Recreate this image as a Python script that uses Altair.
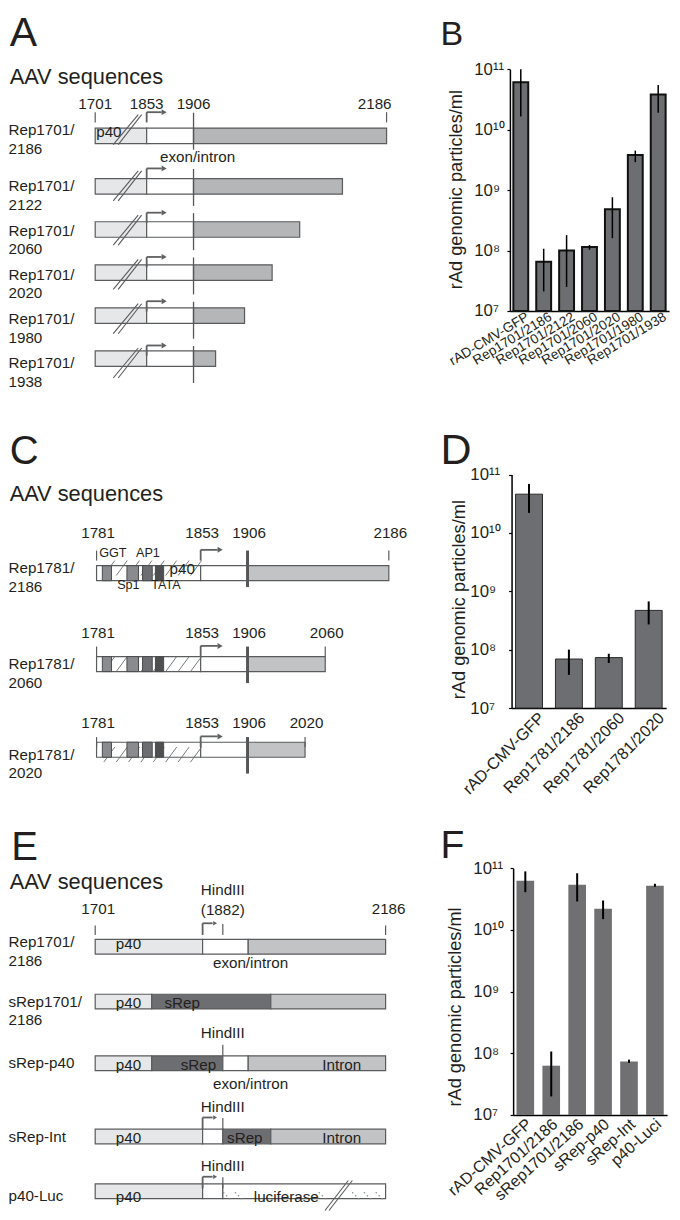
import altair as alt
import pandas as pd

# ------------------------------------------------------------------ data
A_NAMES = ["Rep1701/2186", "Rep1701/2122", "Rep1701/2060", "Rep1701/2020", "Rep1701/1980", "Rep1701/1938"]
A_ENDS = [2186, 2122, 2060, 2020, 1980, 1938]
A_MARKS = [1701, 1853, 1906]
A_BREAK = 1795

C_NAMES = ["Rep1781/2186", "Rep1781/2060", "Rep1781/2020"]
C_ENDS = [2186, 2060, 2020]
C_MARKS = [1781, 1853, 1906]
C_ELEMENTS = ["GGT", "Sp1", "AP1", "TATA"]
C_EL_START = [1785.0, 1802.0, 1812.8, 1821.7]
C_EL_END = [1791.3, 1810.0, 1819.5, 1827.4]
C_LABEL_POS = [1782.8, 1803.0, 1816.5, 1829.0]
C_HATCH = [1789.8, 1798.4, 1806.9, 1815.5, 1824.0, 1832.6, 1841.2, 1849.8]
C_P40_POS = 1840.2

E_NAMES = ["Rep1701/2186", "sRep1701/2186", "sRep-p40", "sRep-Int", "p40-Luc"]
E_SEG_ROW = [0, 0, 0, 1, 1, 1, 2, 2, 2, 2, 3, 3, 3, 3, 4, 4, 4]
E_SEG_START = [1701, 1853, 1906, 1701, 1781, 1952, 1701, 1781, 1882, 1906, 1701, 1853, 1882, 1952, 1701, 1853, 1882]
E_SEG_END = [1853, 1906, 2186, 1781, 1952, 2186, 1781, 1882, 1906, 2186, 1853, 1882, 1952, 2186, 1853, 1882, 2186]
E_SEG_KIND = ["p40", "exon", "rep", "p40", "srep", "rep", "p40", "srep", "exon", "rep",
              "p40", "exon", "srep", "rep", "p40", "exon", "luc"]
E_TEXT_ROW = [0, 1, 2, 3, 4, 1, 2, 3, 2, 3, 4]
E_TEXT = ["p40"] * 5 + ["sRep"] * 3 + ["Intron"] * 2 + ["luciferase"]
E_TEXT_POS = [1748] * 5 + [1824, 1847, 1902.8] + [2096.5, 2096.5] + [1983.6]
E_START, E_END, E_TSS, E_EXON_END = 1701, 2186, 1853, 1906
HINDIII = 1882
E_HINDIII_ROWS = [0, 2, 3, 4]
E_PROMOTER_ROWS = [0, 3, 4]
E_EXON_ROWS = [0, 2]
E_LUC_DOTS = [1885.7, 1896.8, 2057, 2125, 2149, 2173]
E_BREAK = 2089

Y_TICKS = [1e7, 1e8, 1e9, 1e10, 1e11]
Y_TICK_LABELS = ["10\u2077", "10\u2078", "10\u2079", "10\u00b9\u2070", "10\u00b9\u00b9"]
Y_TITLE = "rAd genomic particles/ml"

B_CATS = ["rAD-CMV-GFP", "Rep1701/2186", "Rep1701/2122", "Rep1701/2060", "Rep1701/2020", "Rep1701/1980", "Rep1701/1938"]
B_VALS = [6.1e10, 6.5e7, 1.0e8, 1.14e8, 4.8e8, 3.8e9, 3.8e10]
B_LO = [1.65e10, 2.1e7, 2.5e7, 1.03e8, 1.6e8, 2.9e9, 1.9e10]
B_HI = [1.0e11, 1.07e8, 1.8e8, 1.23e8, 7.6e8, 4.5e9, 5.5e10]

D_CATS = ["rAD-CMV-GFP", "Rep1781/2186", "Rep1781/2060", "Rep1781/2020"]
D_VALS = [4.6e10, 6.9e7, 7.3e7, 4.7e8]
D_LO = [2.2e10, 3.7e7, 5.9e7, 2.7e8]
D_HI = [6.9e10, 1.0e8, 8.5e7, 6.7e8]

F_CATS = ["rAD-CMV-GFP", "Rep1701/2186", "sRep1701/2186", "sRep-p40", "sRep-Int", "p40-Luci"]
F_VALS = [6.3e10, 6.3e7, 5.4e10, 2.2e10, 7.4e7, 5.2e10]
F_LO = [4.1e10, 2.0e7, 2.9e10, 1.5e10, 7.0e7, 5.0e10]
F_HI = [8.9e10, 1.07e8, 8.3e10, 3.0e10, 7.9e7, 5.6e10]

PANEL_LETTERS = ["A", "B", "C", "D", "E", "F"]
SECTION_TITLE = "AAV sequences"

# ------------------------------------------------------------------ layout / style
W, H = 664, 1204
SX, SY = W / 680.0, H / 1220.0


def X(v):
    return round(v * SX, 2)


def Y(v):
    return round(v * SY, 2)


FONT = "Liberation Sans"
INK = "#231f20"
EDGE = "#5a5b5d"
LIGHT = "#e6e7e8"
WHITE = "#ffffff"
GRAY_A = "#b5b6b8"
GRAY = "#c2c3c5"
SREP = "#6d6e71"
ARROW = "#5f6062"
BAR = "#6d6e71"
FS = 15.2
E_FILL = {"p40": LIGHT, "exon": WHITE, "rep": GRAY, "srep": SREP, "luc": WHITE}
C_FILL = {"GGT": "#8a8b8e", "Sp1": "#8a8b8e", "AP1": "#6d6e71", "TATA": "#4e4f51"}


def qx(field, sc):
    return alt.X(field, type="quantitative", scale=sc, axis=None)


def qy(field, sc):
    return alt.Y(field, type="quantitative", scale=sc, axis=None)


def segments(df, xs, ys, size, stroke=EDGE, sw=1.2):
    return alt.Chart(df).mark_bar(orient="horizontal", size=size, stroke=stroke, strokeWidth=sw).encode(
        x=qx("start", xs), x2="end:Q", y=qy("row", ys), fill=alt.Fill("fill:N", scale=None))


def vrule(df, xs, ys, top, bottom, color=EDGE, width=1.2):
    return alt.Chart(df).mark_rule(color=color, strokeWidth=width, yOffset=top, y2Offset=bottom).encode(
        x=qx("x", xs), y=qy("row", ys), y2="row:Q")


def promoter(df, xs, ys, base, top, length, head):
    v = vrule(df, xs, ys, top, base, ARROW, 1.8)
    h = alt.Chart(df).mark_rule(color=ARROW, strokeWidth=1.8, yOffset=top, x2Offset=length).encode(
        x=qx("x", xs), x2="x:Q", y=qy("row", ys))
    p = alt.Chart(df).mark_point(shape="triangle-right", filled=True, opacity=1, color=ARROW, size=head,
                                 xOffset=length + 2.5, yOffset=top).encode(x=qx("x", xs), y=qy("row", ys))
    return [v, h, p]


def slash(df, xs, ys, x0, x1, y0, y1, color=EDGE, width=1.1):
    return alt.Chart(df).mark_rule(color=color, strokeWidth=width, xOffset=x0, x2Offset=x1,
                                   yOffset=y0, y2Offset=y1).encode(
        x=qx("x", xs), x2="x:Q", y=qy("row", ys), y2="row:Q")


def label(df, xs, ys, **kw):
    base = dict(font=FONT, fontSize=FS, color=INK, baseline="middle", align="center")
    base.update(kw)
    return alt.Chart(df).mark_text(**base).encode(x=qx("x", xs), y=qy("row", ys), text="t:N")


def row_labels(names, ys):
    df = pd.DataFrame({"row": range(len(names)), "t": [n.replace("/", "/\n") for n in names]})
    return alt.Chart(df).mark_text(font=FONT, fontSize=FS, color=INK, align="left", baseline="middle",
                                   lineBreak="\n", lineHeight=18.5).encode(
        x=alt.value(X(0.5)), y=qy("row", ys), text="t:N")


def rows_df(rows, x):
    return pd.DataFrame({"row": list(rows), "x": x})


def txt_df(rows, xs, texts):
    return pd.DataFrame({"row": rows, "x": xs, "t": texts})


# ------------------------------------------------------------------ panel A schematic
xsA = alt.Scale(domain=[1701, 1853, 1906, 2186], range=[X(89.3), X(142), X(190), X(387.7)], zero=False, nice=False)
ysA = alt.Scale(domain=[0, 1, 5], range=[Y(123.8), Y(180.8), Y(360.2)], zero=False, nice=False)
nA = len(A_ENDS)
segA = pd.DataFrame([(i, s, e, f) for i, end in enumerate(A_ENDS)
                     for s, e, f in [(A_MARKS[0], A_MARKS[1], LIGHT), (A_MARKS[1], A_MARKS[2], WHITE),
                                     (A_MARKS[2], end, GRAY_A)]],
                    columns=["row", "start", "end", "fill"])
A_layers = [
    segments(segA, xsA, ysA, 15.5),
    slash(rows_df(range(nA), A_BREAK), xsA, ysA, -13.8, 11.2, 14.5, -15.5),
    slash(rows_df(range(nA), A_BREAK), xsA, ysA, -8.8, 14.6, 14.5, -15.5),
    vrule(rows_df(range(nA), A_MARKS[2]), xsA, ysA, -17.5, 19.5, "#555658", 1.3),
    vrule(rows_df([0, 0], [A_MARKS[0], A_ENDS[0]]), xsA, ysA, -18, -7.75),
    *promoter(rows_df(range(nA), A_MARKS[1]), xsA, ysA, -7.75, -18, 15, 34),
    label(txt_df([0, 0, 0], A_MARKS, [str(v) for v in A_MARKS]), xsA, ysA, dy=-26),
    label(txt_df([0], [A_ENDS[0]], [str(A_ENDS[0])]), xsA, ysA, dy=-26, align="right", dx=5),
    label(txt_df([0], [A_MARKS[0]], ["p40"]), xsA, ysA, align="left", dx=1, dy=1.5),
    label(txt_df([0], [A_MARKS[2]], ["exon/intron"]), xsA, ysA, dx=4, dy=27),
    row_labels(A_NAMES, ysA),
]

# ------------------------------------------------------------------ panel C schematic
xsC = alt.Scale(domain=[1781, 1853, 1906, 2186], range=[X(90.7), X(197.3), X(245.3), X(390)], zero=False, nice=False)
ysC = alt.Scale(domain=[0, 1, 2], range=[Y(567.5), Y(664.8), Y(756.5)], zero=False, nice=False)
nC = len(C_ENDS)
segC = pd.DataFrame([(i, s, e, f) for i, end in enumerate(C_ENDS)
                     for s, e, f in [(C_MARKS[0], C_MARKS[1], WHITE), (C_MARKS[1], C_MARKS[2], WHITE),
                                     (C_MARKS[2], end, GRAY)]],
                    columns=["row", "start", "end", "fill"])
hatchC = pd.DataFrame([(i, h) for i in range(nC) for h in C_HATCH], columns=["row", "x"])
boxC = pd.DataFrame([(i, s, e, C_FILL[n]) for i in range(nC) for n, s, e in zip(C_ELEMENTS, C_EL_START, C_EL_END)],
                    columns=["row", "start", "end", "fill"])
numsC = pd.DataFrame([(i, v, str(v)) for i, end in enumerate(C_ENDS) for v in C_MARKS + [end]],
                     columns=["row", "x", "t"])
tickC = pd.DataFrame([(i, v) for i, end in enumerate(C_ENDS) for v in (C_MARKS[0], end)], columns=["row", "x"])
C_layers = [
    segments(segC, xsC, ysC, 15),
    slash(hatchC, xsC, ysC, -5.5, 5.5, 7.5, -7.5, "#6a6b6d", 0.9),
    segments(boxC, xsC, ysC, 15, "#4a4b4d", 1.0),
    vrule(tickC, xsC, ysC, -17.5, -7.5),
    vrule(rows_df(range(nC), C_MARKS[2]), xsC, ysC, -17.5, 19, "#555658", 3),
    *promoter(rows_df(range(nC), C_MARKS[1]), xsC, ysC, -7.5, -18.2, 17, 36),
    label(numsC[numsC.row == 0], xsC, ysC, dy=-35.5, dx=1.5),
    label(numsC[numsC.row > 0], xsC, ysC, dy=-31.5, dx=1.5),
    label(txt_df([0], [C_LABEL_POS[0]], [C_ELEMENTS[0]]), xsC, ysC, fontSize=12.6, dy=-15.5, align="left"),
    label(txt_df([0], [C_LABEL_POS[2]], [C_ELEMENTS[2]]), xsC, ysC, fontSize=12.6, dy=-15.5),
    label(txt_df([0, 0], [C_LABEL_POS[1], C_LABEL_POS[3]], [C_ELEMENTS[1], C_ELEMENTS[3]]), xsC, ysC,
          fontSize=12.6, dy=16.8),
    label(txt_df([0], [C_P40_POS], ["p40"]), xsC, ysC, dy=0.5),
    row_labels(C_NAMES, ysC),
]

# ------------------------------------------------------------------ panel E schematic
xsE = alt.Scale(domain=[1701, 1853, 1882, 1906, 2186], range=[X(89.3), X(199.3), X(220), X(246), X(386.7)],
                zero=False, nice=False)
ysE = alt.Scale(domain=[0, 1, 2, 3, 4], range=[Y(946.7), Y(1006.8), Y(1069.2), Y(1143.5), Y(1203.5)],
                zero=False, nice=False)
segE = pd.DataFrame({"row": E_SEG_ROW, "start": E_SEG_START, "end": E_SEG_END,
                     "fill": [E_FILL[k] for k in E_SEG_KIND]})
lucRow = [E_SEG_ROW[i] for i, k in enumerate(E_SEG_KIND) if k == "luc"][0]
dotsE = rows_df([lucRow] * len(E_LUC_DOTS), E_LUC_DOTS)


def dots(dx, dy):
    return alt.Chart(dotsE).mark_point(shape="circle", filled=True, opacity=1, color="#8a8b8d", size=2.5,
                                       xOffset=dx, yOffset=dy).encode(x=qx("x", xsE), y=qy("row", ysE))


E_layers = [
    segments(segE, xsE, ysE, 14.7),
    dots(-3, -3), dots(0, 0), dots(3, 3),
    slash(rows_df([lucRow], E_BREAK), xsE, ysE, -13, 10.3, 14.8, -15.2),
    slash(rows_df([lucRow], E_BREAK), xsE, ysE, -9, 14.3, 14.8, -15.2),
    vrule(rows_df([0, 0], [E_START, E_END]), xsE, ysE, -16.7, -7.35),
    vrule(rows_df(E_HINDIII_ROWS, HINDIII), xsE, ysE, -18.4, -7.35),
    *promoter(rows_df(E_PROMOTER_ROWS, E_TSS), xsE, ysE, -7.35, -19, 10, 20),
    label(txt_df([0, 0], [E_START, E_END], [str(E_START), str(E_END)]), xsE, ysE, dy=-33.4, dx=3),
    label(txt_df([0], [HINDIII], ["HindIII"]), xsE, ysE, dy=-52.4),
    label(txt_df([0], [HINDIII], ["(" + str(HINDIII) + ")"]), xsE, ysE, dy=-32.4),
    label(txt_df(E_HINDIII_ROWS[1:], HINDIII, "HindIII"), xsE, ysE, dy=-30),
    label(txt_df(E_EXON_ROWS, E_EXON_END, "exon/intron"), xsE, ysE, dx=2.3, dy=20.5),
    label(txt_df(E_TEXT_ROW, E_TEXT_POS, E_TEXT), xsE, ysE, dy=1.5),
    row_labels(E_NAMES, ysE),
]

# ------------------------------------------------------------------ bar charts
LABEL_EXPR = "[" + ",".join("'" + s + "'" for s in Y_TICK_LABELS) + "][round(log(datum.value)/LN10)-7]"


def bar_panel(cats, vals, lo, hi, xr, yr, pad, style, err_w, xlab, ylab_start, title_c):
    df = pd.DataFrame({"cat": cats, "val": vals, "lo": lo, "hi": hi})

    def xs():
        return alt.Scale(domain=cats, range=[X(xr[0]), X(xr[1])], paddingInner=pad[0], paddingOuter=pad[1])

    def ys():
        return alt.Scale(type="log", domain=[Y_TICKS[0], Y_TICKS[-1]], range=[Y(yr[0]), Y(yr[1])], nice=False)

    xaxis = alt.Axis(orient="bottom", offset=Y(yr[0]) - H, title=None, ticks=False, domainColor="black",
                     domainWidth=1.5, labelFont=FONT, labelFontSize=xlab[0], labelColor=INK, labelAngle=xlab[1],
                     labelAlign="right", labelBaseline="middle", labelOffset=xlab[2], labelPadding=xlab[3],
                     labelOverlap=False, labelLimit=300, grid=False)
    yaxis = alt.Axis(orient="left", offset=-X(xr[0]), values=Y_TICKS, labelExpr=LABEL_EXPR, labelAlign="left",
                     labelBaseline="middle", labelPadding=X(xr[0]) - X(ylab_start) - 3, tickSize=3,
                     tickColor="black", tickWidth=1.2, domainColor="black", domainWidth=1.5, grid=False,
                     labelFont=FONT, labelFontSize=16.8, labelColor=INK, labelOverlap=False,
                     title=Y_TITLE, titleFont=FONT, titleFontSize=18.2, titleFontWeight="normal", titleColor=INK,
                     titleAngle=270, titleAlign="center", titleBaseline="middle",
                     titleX=X(title_c[0]) - X(xr[0]), titleY=Y(title_c[1]))
    bars = alt.Chart(df).mark_bar(**style).encode(
        x=alt.X("cat:N", scale=xs(), axis=xaxis),
        y=alt.Y("val:Q", scale=ys(), axis=yaxis),
        y2=alt.datum(Y_TICKS[0]))
    err = alt.Chart(df).mark_rule(color="black", strokeWidth=err_w).encode(
        x=alt.X("cat:N", scale=xs(), axis=None),
        y=alt.Y("lo:Q", scale=ys(), axis=None), y2="hi:Q")
    return [bars, err]


B_layers = bar_panel(B_CATS, B_VALS, B_LO, B_HI, (514, 677), (307, 62), (0.35, 0.15),
                     dict(fill=BAR, stroke="#111111", strokeWidth=2), 1.5,
                     (13.6, 329, 7, 4.5), 477, (459.2, 183.5))
D_layers = bar_panel(D_CATS, D_VALS, D_LO, D_HI, (515.7, 674), (709.3, 472.7), (0.325, 0.1),
                     dict(fill=BAR, stroke="#2a2a2a", strokeWidth=1), 2,
                     (16.3, 315, 13, 7), 473, (462.5, 599))
F_layers = bar_panel(F_CATS, F_VALS, F_LO, F_HI, (517.3, 675), (1121.7, 871.7), (0.32, 0.13),
                     dict(fill="#707073", strokeWidth=0), 2,
                     (16, 318, 4, 6.5), 476, (458.3, 1011.7))

# ------------------------------------------------------------------ panel letters and section titles


def annot(text, x, y, size):
    return alt.Chart(pd.DataFrame({"t": [text]})).mark_text(
        font=FONT, fontSize=size, color=INK, align="left", baseline="alphabetic").encode(
        x=alt.value(X(x)), y=alt.value(Y(y)), text="t:N")


LETTER_POS = [(1.7, 38.3, 41), (443, 37.3, 34), (1.7, 462, 40), (443, 461.7, 43), (3.3, 863.3, 40), (443, 861.7, 39)]
TITLE_POS = [(1.7, 76.7), (1.7, 500), (1.7, 892.7)]
annots = [annot(l, *p) for l, p in zip(PANEL_LETTERS, LETTER_POS)]
annots += [annot(SECTION_TITLE, x, y, 21.8) for x, y in TITLE_POS]

all_layers = A_layers + B_layers + C_layers + D_layers + E_layers + F_layers + annots
chart = alt.layer(*all_layers).resolve_scale(
    x="independent", y="independent").properties(
    width=W, height=H, padding=0, autosize=alt.AutoSizeParams(type="none"), background="white"
).configure_view(strokeWidth=0)

chart.save("out.html", embed_options={"renderer": "svg", "actions": False})
